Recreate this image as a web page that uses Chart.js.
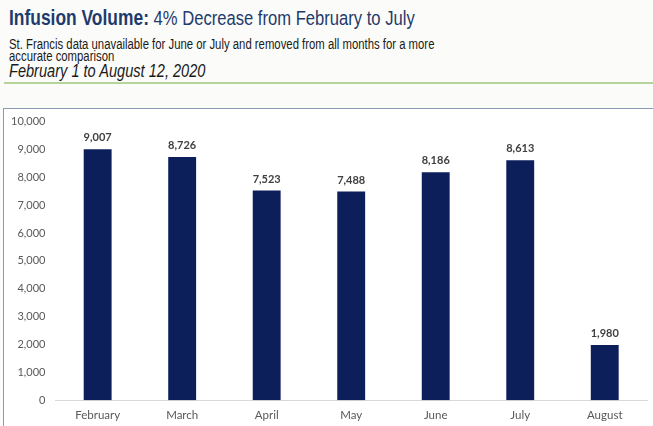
<!DOCTYPE html>
<html><head><meta charset="utf-8">
<script src="https://cdn.jsdelivr.net/npm/chart.js@4"></script>
<style>
html,body{margin:0;padding:0;background:#fbfcf9;width:653px;height:426px;overflow:hidden;font-family:"Liberation Sans",Arial,sans-serif;}
.n{position:absolute;left:9px;transform:scaleX(0.81);transform-origin:0 0;white-space:nowrap;}
#t1{top:6px;color:#1f3a6c;font-size:20.5px;}
#t1 b{font-size:21.5px;}
#t2{top:39px;color:#1a1a1a;font-size:14px;line-height:11.5px;}
#t3{top:61px;color:#1a1a1a;font-size:18px;font-style:italic;}
#rule{position:absolute;left:4px;right:0;top:82px;height:2px;background:#b5d49a;}
#box{position:absolute;left:3px;top:108px;width:650px;height:318px;background:#fff;border-left:1.5px solid #8a9bb5;border-top:1.5px solid #8a9bb5;overflow:hidden;}
#c{position:absolute;left:-8px;top:-4px;}
</style></head><body>
<div id="t1" class="n"><b>Infusion Volume:</b> 4% Decrease from February to July</div>
<div id="t2" class="n">St. Francis data unavailable for June or July and removed from all months for a more<br>accurate comparison</div>
<div id="t3" class="n">February 1 to August 12, 2020</div>
<div id="rule"></div>
<div id="box"><canvas id="c" width="658" height="327"></canvas></div>
<script>
const categories = ["February","March","April","May","June","July","August"];
const infusions = [9007, 8726, 7523, 7488, 8186, 8613, 1980];
const yTicks = [0,1000,2000,3000,4000,5000,6000,7000,8000,9000,10000];

const labelPlugin = {
  id:'barLabels',
  afterDatasetsDraw(chart){
    const ctx = chart.ctx;
    const meta = chart.getDatasetMeta(0);
    ctx.save();
    ctx.font = 'bold 11px Lato, "Open Sans", sans-serif';
    ctx.fillStyle = '#404040';
    ctx.textAlign = 'center';
    ctx.textBaseline = 'bottom';
    meta.data.forEach((el,i)=>{
      ctx.fillText(infusions[i].toLocaleString('en-US'), el.x, el.y - 6);
    });
    ctx.restore();
  }
};

new Chart(document.getElementById('c'), {
  type:'bar',
  data:{labels:categories,datasets:[{data:infusions,backgroundColor:'#0c1f5b',barPercentage:0.66,categoryPercentage:0.5}]},
  options:{
    responsive:false,animation:false,
    layout:{padding:{top:6,right:7,left:5,bottom:2}},
    plugins:{legend:{display:false},tooltip:{enabled:false}},
    scales:{
      x:{grid:{display:false,drawTicks:false},border:{display:true,color:'#d9d9d9',width:1},
         ticks:{color:'#595959',font:{family:'Lato, "Open Sans", sans-serif',size:11.5},padding:8}},
      y:{min:0,max:10000,afterBuildTicks(ax){ax.ticks=yTicks.map(v=>({value:v}));},
         grid:{display:false,drawTicks:false},border:{display:false},
         ticks:{color:'#595959',font:{family:'Lato, "Open Sans", sans-serif',size:11},padding:10,
           callback:v=>v.toLocaleString('en-US')}}
    }
  },
  plugins:[labelPlugin]
});
</script>
</body></html>
